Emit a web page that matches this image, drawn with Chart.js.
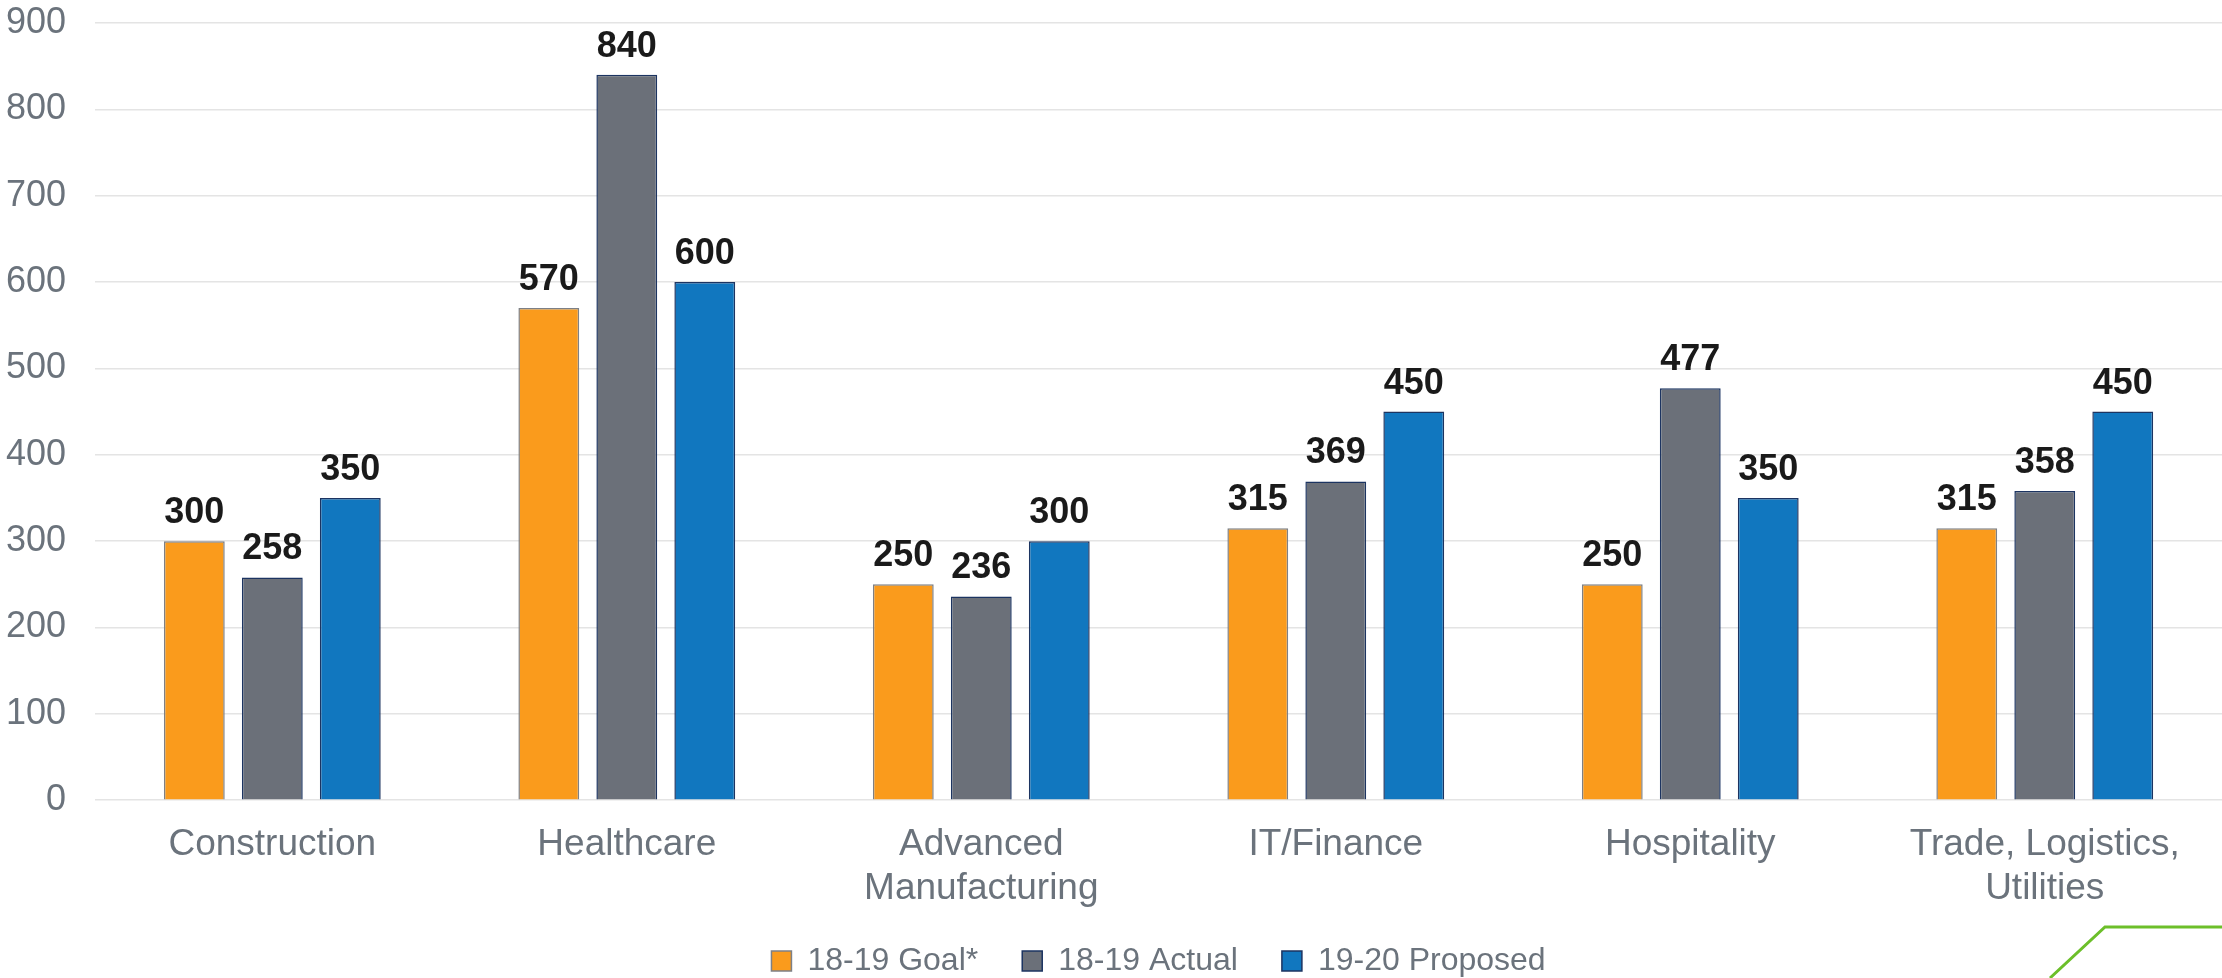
<!DOCTYPE html>
<html>
<head>
  <title>Sector Goals</title>
  <script src="https://cdn.jsdelivr.net/npm/chart.js@4.4.0/dist/chart.umd.min.js"></script>
  <style>
    body {
      margin: 0;
      padding: 0;
      background: #ffffff;
    }

    #wrap {
      width: 2222px;
      height: 978px;
    }
  </style>
</head>
<body>
  <div id="wrap">
    <canvas id="grafik"></canvas>
  </div>

  <script>
    // data
    const sectors = ['Construction', 'Healthcare', ['Advanced', 'Manufacturing'], 'IT/Finance', 'Hospitality', ['Trade, Logistics,', 'Utilities']];
    const goal1819 = [300, 570, 250, 315, 250, 315];
    const actual1819 = [258, 840, 236, 369, 477, 358];
    const proposed1920 = [350, 600, 300, 450, 350, 450];
    const seriesNames = ['18-19 Goal*', '18-19 Actual', '19-20 Proposed'];

    const textGray = '#6b737c';
    const fontFam = '"Liberation Sans", Arial, sans-serif';

    // draws the bold number above each bar
    const barLabels = {
      id: 'barLabels',
      afterDatasetsDraw(chart) {
        const ctx = chart.ctx;
        ctx.save();
        ctx.font = 'bold 36px ' + fontFam;
        ctx.fillStyle = '#1a1a1a';
        ctx.textAlign = 'center';
        ctx.textBaseline = 'bottom';
        chart.data.datasets.forEach((ds, i) => {
          chart.getDatasetMeta(i).data.forEach((bar, j) => {
            ctx.fillText(ds.data[j], bar.x, bar.y - 10);
          });
        });
        ctx.restore();
      }
    };

    // green slide decoration in the bottom right corner
    const cornerLine = {
      id: 'cornerLine',
      afterDraw(chart) {
        const ctx = chart.ctx;
        const w = chart.width, h = chart.height;
        ctx.save();
        ctx.strokeStyle = '#6cbf2a';
        ctx.lineWidth = 3;
        ctx.beginPath();
        ctx.moveTo(w - 172, h);
        ctx.lineTo(w - 117, h - 51);
        ctx.lineTo(w, h - 51);
        ctx.stroke();
        ctx.restore();
      }
    };

    const ctx = document.getElementById('grafik').getContext('2d');
    new Chart(ctx, {
      type: 'bar',
      data: {
        labels: sectors,
        datasets: [{
          label: seriesNames[0],
          data: goal1819,
          backgroundColor: '#fa9b1c',
          borderColor: '#7d8086',
          borderWidth: 1.5
        }, {
          label: seriesNames[1],
          data: actual1819,
          backgroundColor: '#6b7079',
          borderColor: '#1c3461',
          borderWidth: 1.5
        }, {
          label: seriesNames[2],
          data: proposed1920,
          backgroundColor: '#1177bf',
          borderColor: '#1c3461',
          borderWidth: 1.5
        }]
      },
      options: {
        responsive: true,
        maintainAspectRatio: false,
        animation: false,
        datasets: {
          bar: {
            categoryPercentage: 0.66,
            barPercentage: 0.78
          }
        },
        layout: {
          padding: { top: 23, left: 2, right: 0, bottom: -9 }
        },
        plugins: {
          tooltip: { enabled: false },
          legend: {
            position: 'bottom',
            fullSize: false,
            labels: {
              color: textGray,
              boxWidth: 20,
              boxHeight: 20,
              padding: 12,
              font: { size: 32, family: fontFam },
              // wider gap between the legend entries
              generateLabels(chart) {
                const items = Chart.defaults.plugins.legend.labels.generateLabels(chart);
                items.forEach((item, i) => {
                  if (i < items.length - 1) item.text += '\u2003';
                });
                return items;
              }
            }
          }
        },
        scales: {
          x: {
            grid: { display: false, drawTicks: false },
            border: { display: false },
            ticks: {
              color: textGray,
              padding: 22,
              font: { size: 37, family: fontFam }
            }
          },
          y: {
            min: 0,
            max: 900,
            border: { display: false },
            grid: { color: '#e4e4e4', lineWidth: 1.5, tickLength: 25, tickColor: 'rgba(0,0,0,0)' },
            ticks: {
              stepSize: 100,
              color: textGray,
              padding: 4,
              font: { size: 36, family: fontFam, lineHeight: 1 }
            }
          }
        }
      },
      plugins: [barLabels, cornerLine]
    });
  </script>
</body>
</html>
